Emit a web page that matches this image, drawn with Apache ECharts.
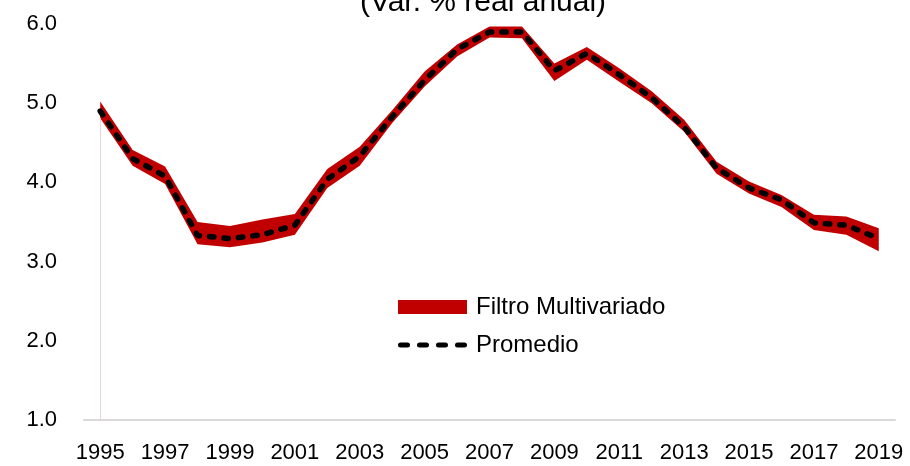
<!DOCTYPE html>
<html>
<head>
<meta charset="utf-8">
<script src="https://cdn.jsdelivr.net/npm/echarts@6/dist/echarts.min.js"></script>
<style>
  html, body { margin: 0; padding: 0; background: #fff; }
  #chart { width: 910px; height: 466px; }
</style>
</head>
<body>
<div id="chart"></div>
<script>
const years = ["1995", "1996", "1997", "1998", "1999", "2000", "2001", "2002", "2003",
  "2004", "2005", "2006", "2007", "2008", "2009", "2010", "2011", "2012", "2013",
  "2014", "2015", "2016", "2017", "2018", "2019"];

// banda del filtro multivariado (límite superior / inferior)
const upper = [5.02, 4.41, 4.20, 3.50, 3.45, 3.53, 3.60, 4.17, 4.45, 4.91, 5.40, 5.74, 5.97,
  5.97, 5.50, 5.71, 5.44, 5.15, 4.79, 4.26, 4.01, 3.84, 3.59, 3.57, 3.42];
const lower = [4.81, 4.21, 3.98, 3.22, 3.18, 3.24, 3.34, 3.93, 4.21, 4.75, 5.21, 5.59, 5.83,
  5.82, 5.28, 5.55, 5.27, 5.00, 4.64, 4.11, 3.86, 3.69, 3.40, 3.34, 3.13];
const promedio = [4.90, 4.30, 4.08, 3.33, 3.29, 3.34, 3.46, 4.04, 4.33, 4.83, 5.29, 5.68, 5.90,
  5.90, 5.41, 5.63, 5.36, 5.07, 4.70, 4.18, 3.93, 3.78, 3.49, 3.46, 3.29];

const FONT = '"Liberation Sans", Arial, sans-serif';
const RED = "#C00000";

const bandWidth = upper.map((v, i) => +(v - lower[i]).toFixed(2));

// icono de leyenda: cuatro trazos redondeados
const dashIcon = "path://" + [0, 19, 38, 57].map((x) =>
  `M${x + 2.5},0 H${x + 9.5} A2.5,2.5 0 0 1 ${x + 9.5},5 H${x + 2.5} A2.5,2.5 0 0 1 ${x + 2.5},0 Z`
).join(" ");

const chart = echarts.init(document.getElementById("chart"));

const option = {
  animation: false,
  title: {
    text: "(Var. % real anual)",
    left: 478,
    top: -17,
    textAlign: "center",
    textStyle: { fontFamily: FONT, fontSize: 30, fontWeight: "normal", color: "#000" },
  },
  legend: {
    orient: "vertical",
    left: 393,
    top: 290,
    itemWidth: 69,
    itemHeight: 14,
    itemGap: 14,
    textStyle: { fontFamily: FONT, fontSize: 24, color: "#000", padding: [0, 0, 0, 4] },
    data: [
      { name: "Filtro Multivariado", icon: "rect" },
      { name: "Promedio", icon: dashIcon, itemStyle: { color: "#000" } },
    ],
  },
  grid: { left: 84, top: 24, width: 811, height: 396 },
  xAxis: {
    type: "category",
    data: years,
    boundaryGap: true,
    axisLine: { lineStyle: { color: "#d9d9d9", width: 2 } },
    axisTick: { show: false },
    axisLabel: {
      interval: 1,
      margin: 22,
      fontFamily: FONT,
      fontSize: 22,
      color: "#000",
    },
  },
  yAxis: {
    type: "value",
    min: 1,
    max: 6,
    interval: 1,
    axisLine: { show: false },
    axisTick: { show: false },
    splitLine: { show: false },
    axisLabel: {
      margin: 27,
      fontFamily: FONT,
      fontSize: 22,
      color: "#000",
      formatter: (v) => v.toFixed(1),
    },
  },
  series: [
    {
      name: "base",
      type: "line",
      stack: "band",
      data: lower,
      symbol: "none",
      lineStyle: { width: 0, opacity: 0 },
      silent: true,
      markLine: {
        symbol: "none",
        silent: true,
        label: { show: false },
        lineStyle: { color: "#ecd3d6", width: 1, type: "solid" },
        data: [[{ coord: [0, 1] }, { coord: [0, lower[0]] }]],
      },
    },
    {
      name: "Filtro Multivariado",
      type: "line",
      stack: "band",
      data: bandWidth,
      symbol: "none",
      itemStyle: { color: RED },
      lineStyle: { width: 0, color: RED },
      areaStyle: { color: RED, opacity: 1 },
    },
    {
      name: "Promedio",
      type: "line",
      data: promedio,
      symbol: "none",
      z: 5,
      itemStyle: { color: "#000" },
      lineStyle: { color: "#000", width: 5.5, type: [4.5, 10], cap: "round" },
    },
  ],
};

chart.setOption(option);
</script>
</body>
</html>
